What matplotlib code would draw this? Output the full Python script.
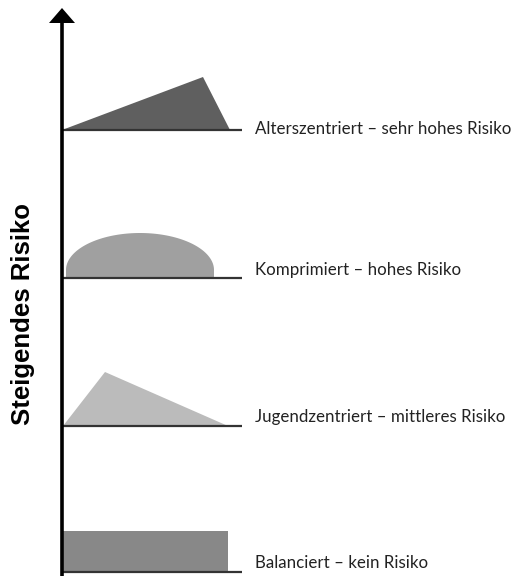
import matplotlib.pyplot as plt
from matplotlib.patches import Polygon, Rectangle
import numpy as np

# risk profiles, top to bottom
labels = ["Alterszentriert – sehr hohes Risiko",
          "Komprimiert – hohes Risiko",
          "Jugendzentriert – mittleres Risiko",
          "Balanciert – kein Risiko"]
baselines = [130, 278, 426, 572]
label_y = [129, 270, 417, 563]
fills = ["#5f5f5f", "#a0a0a0", "#bbbbbb", "#888888"]

# shape outlines (x, y) in picture units
old_x = [62, 203, 230]
old_y = [130, 77, 130]
young_x = [63, 105, 228]
young_y = [426, 372, 426]
dome_left, dome_right, dome_top = 66, 214, 233
bal_left, bal_right, bal_top = 63, 228, 531

fig = plt.figure(figsize=(5.16, 5.76), dpi=100)
ax = fig.add_axes([0, 0, 1, 1])
ax.set_xlim(0, 516)
ax.set_ylim(576, 0)
ax.axis("off")

# shapes
ax.add_patch(Polygon(list(zip(old_x, old_y)), closed=True, color=fills[0], lw=0))
ax.add_patch(Polygon(list(zip(young_x, young_y)), closed=True, color=fills[2], lw=0))

# dome: upper half of an ellipse sitting on a short vertical base
cx = (dome_left + dome_right) / 2
a = (dome_right - dome_left) / 2
base = baselines[1]
mid = base - 8
b = mid - dome_top
t = np.linspace(np.pi, 0, 100)
dx = cx + a * np.cos(t)
dy = mid - b * np.sin(t)
dome = np.column_stack([np.r_[dome_left, dx, dome_right], np.r_[base, dy, base]])
ax.add_patch(Polygon(dome, closed=True, color=fills[1], lw=0))

ax.add_patch(Rectangle((bal_left, bal_top), bal_right - bal_left, baselines[3] - bal_top,
                       color=fills[3], lw=0))

# baselines and labels
for yb, yl, txt in zip(baselines, label_y, labels):
    ax.plot([62, 242], [yb, yb], color="#333333", lw=1.6, solid_capstyle="butt")
    ax.text(255, yl, txt, fontsize=12.2, family="Lato", color="#222222",
            va="center", ha="left")

# vertical arrow
ax.plot([62, 62], [576, 22], color="black", lw=2.6, solid_capstyle="butt")
ax.add_patch(Polygon([(49, 23), (75, 23), (62, 8)], closed=True, color="black", lw=0))

ax.text(23, 314, "Steigendes Risiko", rotation=90, fontsize=18.5, fontweight="bold",
        family="Liberation Sans", ha="center", va="center", color="black")

plt.savefig("out.png", dpi=100, facecolor="white")
